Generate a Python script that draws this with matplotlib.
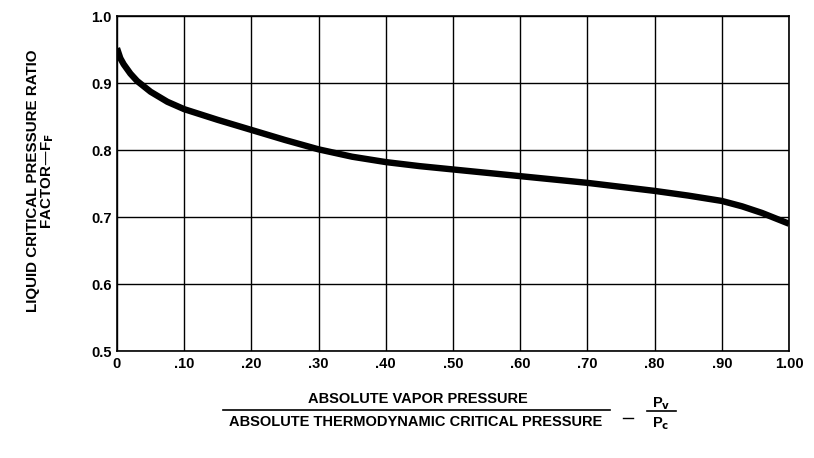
import matplotlib
matplotlib.use("Agg")
import matplotlib.pyplot as plt

# curve
pv_ratio = [0.0, 0.005, 0.01, 0.02, 0.03, 0.05, 0.075, 0.10, 0.15, 0.20, 0.25, 0.30,
            0.35, 0.40, 0.45, 0.50, 0.55, 0.60, 0.65, 0.70, 0.75, 0.80, 0.85,
            0.90, 0.93, 0.96, 0.98, 1.00]
ff = [0.952, 0.937, 0.928, 0.914, 0.903, 0.887, 0.872, 0.861, 0.845, 0.830, 0.815, 0.801,
      0.790, 0.782, 0.776, 0.771, 0.766, 0.761, 0.756, 0.751, 0.745, 0.739, 0.732,
      0.724, 0.716, 0.706, 0.698, 0.690]

x_ticks = [0, 0.1, 0.2, 0.3, 0.4, 0.5, 0.6, 0.7, 0.8, 0.9, 1.0]
x_labels = ["0", ".10", ".20", ".30", ".40", ".50", ".60", ".70", ".80", ".90", "1.00"]
y_ticks = [0.5, 0.6, 0.7, 0.8, 0.9, 1.0]
y_labels = ["0.5", "0.6", "0.7", "0.8", "0.9", "1.0"]

plt.rcParams["font.family"] = ["Liberation Sans", "DejaVu Sans"]
plt.rcParams["font.weight"] = "bold"

fig = plt.figure(figsize=(8.14, 4.58), dpi=100)
ax = fig.add_axes([0.1437, 0.2336, 0.8256, 0.7314])

ax.plot(pv_ratio, ff, color="black", lw=4.6, solid_capstyle="butt",
        solid_joinstyle="round", zorder=3)

ax.set_xlim(0, 1.0)
ax.set_ylim(0.5, 1.0)
ax.set_xticks(x_ticks)
ax.set_xticklabels(x_labels, fontsize=10.5, fontweight="bold")
ax.set_yticks(y_ticks)
ax.set_yticklabels(y_labels, fontsize=10.5, fontweight="bold")
ax.tick_params(length=0, pad=4)
ax.grid(True, color="black", lw=1.0)
for s in ax.spines.values():
    s.set_linewidth(1.2)

fig.text(0.050, 0.605, "LIQUID CRITICAL PRESSURE RATIO\nFACTOR\u2014F$_\\mathbf{F}$",
         rotation=90, ha="center", va="center", fontsize=10.9, fontweight="bold",
         linespacing=0.95)

# x axis label as a fraction
fs = 10.5
fig.text(0.513, 0.129, "ABSOLUTE VAPOR PRESSURE", ha="center",
         va="center", fontsize=fs, fontweight="bold")
fig.add_artist(plt.Line2D([0.274, 0.749], [0.104, 0.104], color="black", lw=1.2,
                          transform=fig.transFigure))
fig.text(0.511, 0.078, "ABSOLUTE THERMODYNAMIC CRITICAL PRESSURE", ha="center",
         va="center", fontsize=fs, fontweight="bold")
fig.add_artist(plt.Line2D([0.765, 0.778], [0.087, 0.087], color="black", lw=1.0,
                          transform=fig.transFigure))
fig.text(0.812, 0.118, "P$_\\mathbf{v}$", ha="center", va="center", fontsize=fs,
         fontweight="bold")
fig.add_artist(plt.Line2D([0.795, 0.830], [0.103, 0.103], color="black", lw=1.2,
                          transform=fig.transFigure))
fig.text(0.812, 0.074, "P$_\\mathbf{c}$", ha="center", va="center", fontsize=fs,
         fontweight="bold")

fig.savefig("out.png", dpi=100)
